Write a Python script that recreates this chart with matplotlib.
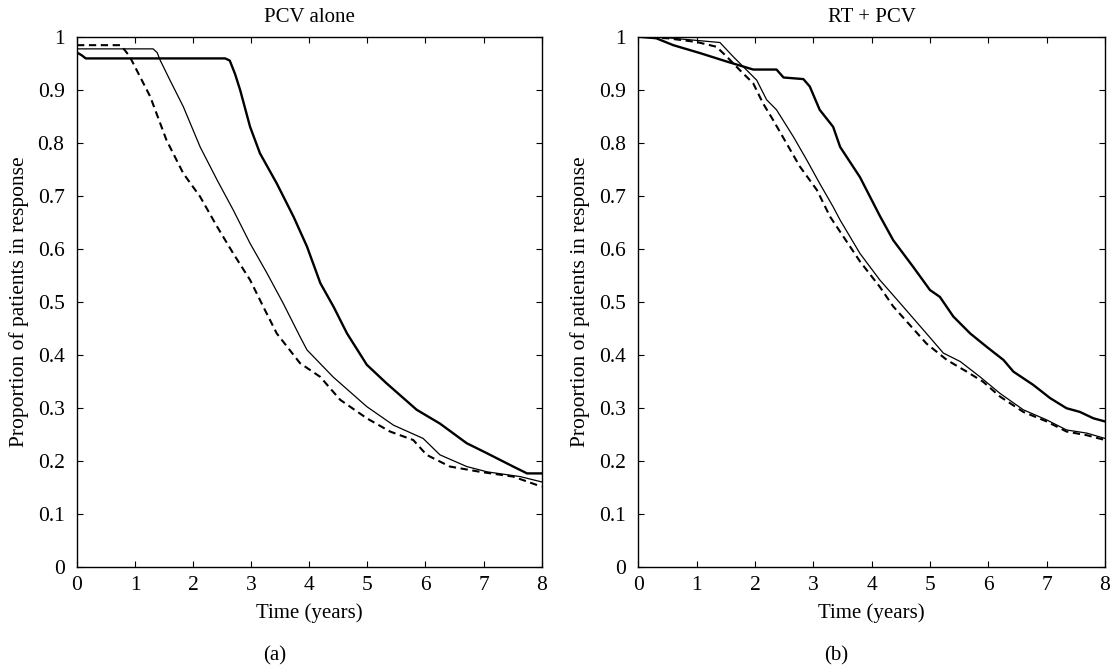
import matplotlib
matplotlib.use("Agg")
import matplotlib.pyplot as plt

plt.rcParams['font.family'] = ['Liberation Serif', 'DejaVu Serif']

# ---- Panel (a): PCV alone ----
a_thick_t = [0, 0.08, 0.15, 2.55, 2.63, 2.72, 2.81, 2.98, 3.15, 3.44, 3.73, 3.96, 4.19, 4.42, 4.65, 4.99, 5.33, 5.85, 6.25, 6.71, 7.06, 7.51, 7.75, 8.0]
a_thick_v = [0.97, 0.965, 0.959, 0.959, 0.955, 0.93, 0.899, 0.83, 0.78, 0.723, 0.66, 0.604, 0.535, 0.49, 0.44, 0.381, 0.346, 0.296, 0.27, 0.233, 0.214, 0.189, 0.176, 0.176]

a_thin_t = [0, 1.31, 1.38, 1.43, 1.6, 1.83, 2.12, 2.41, 2.69, 2.98, 3.27, 3.55, 3.84, 3.96, 4.41, 4.99, 5.45, 5.96, 6.25, 6.71, 7.06, 7.63, 8.0]
a_thin_v = [0.977, 0.977, 0.97, 0.956, 0.918, 0.868, 0.792, 0.73, 0.673, 0.61, 0.554, 0.497, 0.434, 0.409, 0.358, 0.302, 0.267, 0.242, 0.211, 0.189, 0.179, 0.17, 0.16]

a_dash_t = [0, 0.74, 0.82, 0.91, 1.26, 1.54, 1.83, 2.12, 2.41, 2.69, 2.98, 3.21, 3.44, 3.84, 4.19, 4.53, 4.99, 5.39, 5.79, 6.02, 6.42, 6.94, 7.51, 8.0]
a_dash_v = [0.984, 0.984, 0.975, 0.962, 0.887, 0.805, 0.742, 0.698, 0.642, 0.591, 0.541, 0.49, 0.44, 0.384, 0.358, 0.315, 0.28, 0.255, 0.239, 0.211, 0.189, 0.179, 0.17, 0.151]

# ---- Panel (b): RT + PCV ----
b_thick_t = [0, 0.31, 0.6, 1.06, 1.52, 1.97, 2.37, 2.49, 2.83, 2.94, 3.11, 3.34, 3.46, 3.8, 4.14, 4.37, 4.71, 5.0, 5.17, 5.4, 5.69, 5.97, 6.26, 6.43, 6.77, 7.06, 7.34, 7.57, 7.8, 8.0]
b_thick_v = [1.0, 0.997, 0.984, 0.969, 0.953, 0.938, 0.938, 0.923, 0.92, 0.906, 0.862, 0.83, 0.792, 0.735, 0.662, 0.616, 0.566, 0.522, 0.509, 0.472, 0.44, 0.415, 0.39, 0.368, 0.343, 0.318, 0.299, 0.292, 0.28, 0.274]

b_thin_t = [0, 0.5, 1.0, 1.4, 1.63, 1.74, 2.03, 2.2, 2.37, 2.66, 2.89, 3.11, 3.34, 3.46, 3.8, 4.14, 4.49, 4.94, 5.23, 5.52, 5.86, 6.2, 6.6, 7.0, 7.34, 7.69, 8.0]
b_thin_v = [1.0, 0.998, 0.993, 0.989, 0.962, 0.95, 0.918, 0.881, 0.862, 0.811, 0.767, 0.723, 0.679, 0.654, 0.591, 0.541, 0.497, 0.44, 0.403, 0.387, 0.358, 0.327, 0.296, 0.277, 0.258, 0.252, 0.242]

b_dash_t = [0, 0.5, 1.0, 1.34, 1.52, 1.74, 1.97, 2.14, 2.31, 2.54, 2.77, 3.06, 3.29, 3.8, 4.14, 4.37, 4.94, 5.29, 5.63, 5.91, 6.2, 6.6, 7.0, 7.34, 7.69, 8.0]
b_dash_v = [1.0, 0.997, 0.99, 0.981, 0.962, 0.937, 0.912, 0.874, 0.843, 0.799, 0.755, 0.711, 0.66, 0.576, 0.528, 0.491, 0.421, 0.39, 0.368, 0.349, 0.321, 0.292, 0.274, 0.255, 0.248, 0.239]

titles = ["PCV alone", "RT + PCV"]
sublabels = ["(a)", "(b)"]
xticks = [0, 1, 2, 3, 4, 5, 6, 7, 8]
yticks = [0, 0.1, 0.2, 0.3, 0.4, 0.5, 0.6, 0.7, 0.8, 0.9, 1]
ytick_labels = ["0", "0.1", "0.2", "0.3", "0.4", "0.5", "0.6", "0.7", "0.8", "0.9", "1"]

fig = plt.figure(figsize=(11.1, 6.67), dpi=100)
axes = [fig.add_axes([0.0694, 0.1504, 0.4185, 0.7946]),
        fig.add_axes([0.5750, 0.1504, 0.4205, 0.7946])]

data = [
    [(a_thick_t, a_thick_v), (a_thin_t, a_thin_v), (a_dash_t, a_dash_v)],
    [(b_thick_t, b_thick_v), (b_thin_t, b_thin_v), (b_dash_t, b_dash_v)],
]

FS = 15
for ax, d, title, sub in zip(axes, data, titles, sublabels):
    (tt, tv), (nt, nv), (dt, dv) = d
    ax.plot(tt, tv, color='black', lw=1.7, solid_joinstyle='round')
    ax.plot(nt, nv, color='black', lw=0.9, solid_joinstyle='round')
    ax.plot(dt, dv, color='black', lw=1.5, dashes=(3.5, 2.2))
    ax.set_xlim(0, 8)
    ax.set_ylim(0, 1)
    ax.set_xticks(xticks)
    ax.set_xticklabels([str(x) for x in xticks])
    ax.set_yticks(yticks)
    ax.set_yticklabels(ytick_labels)
    ax.tick_params(direction='in', length=4, width=0.8, top=True, right=True,
                   labelsize=15.5, pad=7)
    ax.tick_params(axis='y', pad=9)
    for s in ax.spines.values():
        s.set_linewidth(1.0)
    ax.text(0.5, 1.037, title, transform=ax.transAxes, ha='center', va='center', fontsize=FS)
    ax.set_xlabel("Time (years)", fontsize=FS)
    ax.xaxis.label.set_va('center')
    ax.xaxis.set_label_coords(0.5, -0.0874)
    ax.set_ylabel("Proportion of patients in response", fontsize=15.5)
    ax.yaxis.label.set_va('center')
    ax.yaxis.set_label_coords(-0.125, 0.5)
    ax.text(0.425, -0.1685, sub, transform=ax.transAxes, ha='center', va='center', fontsize=FS)

fig.savefig("out.png", dpi=100)
